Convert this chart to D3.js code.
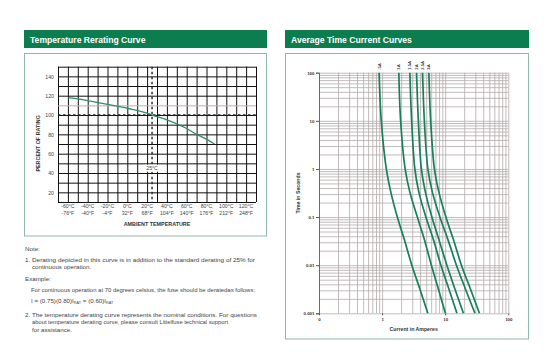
<!DOCTYPE html>
<html><head><meta charset="utf-8">
<script src="https://cdn.jsdelivr.net/npm/d3@7"></script>
<style>
html,body{margin:0;padding:0;background:#fff;}
svg{display:block;font-family:"Liberation Sans",Arial,sans-serif;}
</style></head>
<body><svg id="c" width="546" height="355"></svg>
<script>
// ---------- Data: Temperature Rerating Curve ----------
const tempC = [-60, -40, -20, 0, 20, 25, 40, 60, 70, 80, 88];
const ratingPct = [118, 115, 111, 107, 102, 100, 95, 86, 80, 75, 70];
const tickC = [-60, -40, -20, 0, 20, 40, 60, 80, 100, 120];
const tickF = ["-76°F", "-40°F", "-4°F", "32°F", "68°F", "104°F", "140°F", "176°F", "212°F", "248°F"];
const tickPct = [20, 40, 60, 80, 100, 120, 140];

// ---------- Data: Average Time Current Curves ----------
const fuseLabels = [".5A", "1A", "1.5A", "2A", "2.5A", "3A"];
const timeSec = [100, 10, 1, 0.33, 0.1, 0.034, 0.01, 0.0032, 0.001];
const amps05 = [0.896, 0.971, 1.166, 1.374, 1.742, 2.25, 2.96, 3.97, 5.31];
const amps1 = [1.841, 1.966, 2.318, 2.753, 3.62, 4.676, 6.039, 7.80, 10.07];
const amps15 = [2.753, 2.94, 3.304, 3.824, 4.94, 6.496, 8.545, 11.45, 15.34];
const amps2 = [3.516, 3.754, 4.191, 4.851, 6.15, 7.943, 10.64, 14.26, 19.45];
const amps25 = [4.378, 4.676, 5.313, 6.263, 8.24, 11.04, 15.06, 20.93, 29.61];
const amps3 = [5.512, 5.886, 6.741, 7.943, 10.26, 13.5, 18.08, 25.12, 34.91];
const ampsSeries = [amps05, amps1, amps15, amps2, amps25, amps3];
const xTickVals = [0.1, 1, 10, 100];
const xTickText = ["0", "1", "10", "100"];
const yTickVals = [0.001, 0.01, 0.1, 1, 10, 100];
const yTickText = ["0.001", "0.01", "0.1", "1", "10", "100"];

const svg = d3.select("#c");
const GREEN = "#0b7d4e";
const BORDER = "#8fb8a8";

// ---------- Panels / headers ----------
function panel(x0, x1, title, boxBottom) {
  svg.append("rect").attr("x", x0).attr("y", 30).attr("width", x1 - x0).attr("height", 18).attr("fill", GREEN);
  svg.append("text").attr("x", x0 + 6).attr("y", 42.5).attr("fill", "#fff")
    .attr("font-weight", "bold").attr("font-size", 8.6).text(title);
  svg.append("rect").attr("x", x0 + 0.5).attr("y", 53.5).attr("width", x1 - x0 - 1).attr("height", boxBottom - 53.5)
    .attr("fill", "none").attr("stroke", BORDER).attr("stroke-width", 1);
}
panel(24, 267, "Temperature Rerating Curve", 236);
panel(285, 529, "Average Time Current Curves", 339);

// ---------- Left chart ----------
const xL = d3.scaleLinear().domain([-70, 130]).range([58, 256]);
const yL = d3.scaleLinear().domain([10, 150]).range([202, 66.7]);
const gL = svg.append("g");

gL.append("g").attr("transform", `translate(0,${yL(10)})`)
  .call(d3.axisBottom(xL).tickValues(d3.range(-70, 131, 10)).tickSize(-(yL(10) - yL(150))).tickFormat(""))
  .call(g => g.select(".domain").remove())
  .call(g => g.selectAll("line").attr("stroke", "#111").attr("stroke-width", 1));
gL.append("g").attr("transform", `translate(${xL(-70)},0)`)
  .call(d3.axisLeft(yL).tickValues(d3.range(10, 151, 10)).tickSize(-(xL(130) - xL(-70))).tickFormat(""))
  .call(g => g.select(".domain").remove())
  .call(g => g.selectAll("line").attr("stroke", d => d === 110 ? "#c9a8aa" : "#111").attr("stroke-width", 1));
gL.append("g").attr("transform", `translate(${xL(-70)},0)`)
  .call(d3.axisLeft(yL).tickValues(tickPct).tickSize(0).tickPadding(4))
  .call(g => g.select(".domain").remove())
  .call(g => g.selectAll("text").attr("font-size", 5.2).attr("fill", "#444").attr("font-family", "Liberation Sans, Arial"));

gL.append("line").attr("x1", xL(-70)).attr("x2", xL(130)).attr("y1", yL(100)).attr("y2", yL(100))
  .attr("stroke", "#222").attr("stroke-width", 1.4).attr("stroke-dasharray", "2.5,2.5");
gL.append("line").attr("x1", xL(25)).attr("x2", xL(25)).attr("y1", yL(150)).attr("y2", yL(10))
  .attr("stroke", "#222").attr("stroke-width", 1.4).attr("stroke-dasharray", "2.5,2.5");
gL.append("rect").attr("x", xL(25) - 7).attr("y", yL(45) - 3.5).attr("width", 14).attr("height", 7).attr("fill", "#fff");
gL.append("text").attr("x", xL(25)).attr("y", yL(45) + 2).attr("text-anchor", "middle")
  .attr("font-size", 5.2).attr("fill", "#444").text("25°C");

gL.append("path").datum(tempC.map((c, i) => [c, ratingPct[i]]))
  .attr("fill", "none").attr("stroke", "#2f8d6c").attr("stroke-width", 1.3)
  .attr("d", d3.line().x(d => xL(d[0])).y(d => yL(d[1])).curve(d3.curveMonotoneX));

tickC.forEach((c, i) => {
  gL.append("text").attr("x", xL(c)).attr("y", 208).attr("text-anchor", "middle")
    .attr("font-size", 5.2).attr("fill", "#444").text(c + "°C");
  gL.append("text").attr("x", xL(c)).attr("y", 214.5).attr("text-anchor", "middle")
    .attr("font-size", 5.2).attr("fill", "#444").text(tickF[i]);
});
gL.append("text").attr("x", 157).attr("y", 226).attr("text-anchor", "middle")
  .attr("font-size", 5.4).attr("font-weight", "bold").attr("fill", "#333").text("AMBIENT TEMPERATURE");
gL.append("text").attr("transform", `translate(40,${(yL(10) + yL(150)) / 2 + 9}) rotate(-90)`)
  .attr("text-anchor", "middle").attr("font-size", 5.4).attr("font-weight", "bold").attr("fill", "#333")
  .text("PERCENT OF RATING");

// notes
const noteG = svg.append("g").attr("font-size", 6.2).attr("fill", "#444");
function nt(x, y, s, len) {
  const t = noteG.append("text").attr("x", x).attr("y", y).text(s);
  if (len) t.attr("textLength", len).attr("lengthAdjust", "spacingAndGlyphs");
}
nt(25, 251, "Note:");
nt(25, 261.5, "1.");
nt(32, 261.5, "Derating depicted in this curve is in addition to the standard derating of 25% for", 223);
nt(32, 268.5, "continuous operation.");
nt(25, 281, "Example:");
nt(31, 292, "For continuous operation at 70 degrees celsius, the fuse should be deratedas follows:", 224);
const eq = noteG.append("text").attr("x", 31).attr("y", 303);
eq.append("tspan").text("I = (0.75)(0.80)I");
eq.append("tspan").attr("font-size", 3.8).attr("dy", 1.2).text("RAT");
eq.append("tspan").attr("dy", -1.2).text(" = (0.60)I");
eq.append("tspan").attr("font-size", 3.8).attr("dy", 1.2).text("RAT");
nt(25, 317, "2.");
nt(32, 317, "The temperature derating curve represents the nominal conditions. For questions", 225);
nt(32, 324.3, "about temperature derating curve, please consult Littelfuse technical support", 196);
nt(32, 331.5, "for assistance.");

// ---------- Right chart ----------
const xR = d3.scaleLog().domain([0.1, 100]).range([319, 508.3]);
const yR = d3.scaleLog().domain([0.001, 100]).range([313.3, 72.7]);
const gR = svg.append("g");
const xGrid = [];
[0.1, 1, 10].forEach(d => { for (let k = 1; k <= 9; k++) xGrid.push(+(d * k).toPrecision(3)); });
xGrid.push(100);
const yGrid = [];
[0.001, 0.01, 0.1, 1, 10].forEach(d => { for (let k = 1; k <= 9; k++) yGrid.push(+(d * k).toPrecision(3)); });
yGrid.push(100);

gR.append("g").attr("transform", `translate(0,${yR(0.001)})`)
  .call(d3.axisBottom(xR).tickValues(xGrid).tickSize(-(yR(0.001) - yR(100))).tickFormat(""))
  .call(g => g.select(".domain").remove())
  .call(g => g.selectAll("line").attr("stroke", "#b3a9ab").attr("stroke-width", 0.8));
gR.append("g").attr("transform", `translate(${xR(0.1)},0)`)
  .call(d3.axisLeft(yR).tickValues(yGrid).tickSize(-(xR(100) - xR(0.1))).tickFormat(""))
  .call(g => g.select(".domain").remove())
  .call(g => g.selectAll("line").attr("stroke", "#b3a9ab").attr("stroke-width", 0.8));
gR.append("g").attr("transform", `translate(${xR(0.1)},0)`)
  .call(d3.axisLeft(yR).tickValues(yTickVals).tickSize(3).tickPadding(1.5).tickFormat((d, i) => yTickText[i]))
  .call(g => g.select(".domain").attr("stroke", "#555").attr("stroke-width", 0.8))
  .call(g => g.selectAll("line").attr("stroke", "#555"))
  .call(g => g.selectAll("text").attr("font-size", 4.4).attr("font-weight", "bold").attr("fill", "#333").attr("font-family", "Liberation Sans, Arial"));
gR.append("g").attr("transform", `translate(0,${yR(0.001)})`)
  .call(d3.axisBottom(xR).tickValues(xTickVals).tickSize(2).tickPadding(3).tickFormat((d, i) => xTickText[i]))
  .call(g => g.select(".domain").remove())
  .call(g => g.selectAll("line").attr("stroke", "#555"))
  .call(g => g.selectAll("text").attr("font-size", 4.4).attr("font-weight", "bold").attr("fill", "#333").attr("font-family", "Liberation Sans, Arial"));

const lineR = d3.line().x(d => xR(d[1])).y(d => yR(d[0])).curve(d3.curveCatmullRom.alpha(0.5));
ampsSeries.forEach((arr, i) => {
  gR.append("path").datum(timeSec.map((t, j) => [t, arr[j]]))
    .attr("fill", "none").attr("stroke", "#177f5b").attr("stroke-width", 1.7).attr("d", lineR);
  gR.append("text").attr("transform", `translate(${xR(arr[0]) + 1.5},${yR(100) - 3}) rotate(-90)`)
    .attr("font-size", 4.2).attr("font-weight", "bold").attr("fill", "#333").text(fuseLabels[i]);
});

gR.append("text").attr("x", 413.7).attr("y", 331).attr("text-anchor", "middle")
  .attr("font-size", 5.2).attr("font-weight", "bold").attr("fill", "#333").text("Current in Amperes");
gR.append("text").attr("transform", `translate(300,${(yR(0.001) + yR(100)) / 2}) rotate(-90)`)
  .attr("text-anchor", "middle").attr("font-size", 5.2).attr("font-weight", "bold").attr("fill", "#333").text("Time in Seconds");
</script></body></html>
